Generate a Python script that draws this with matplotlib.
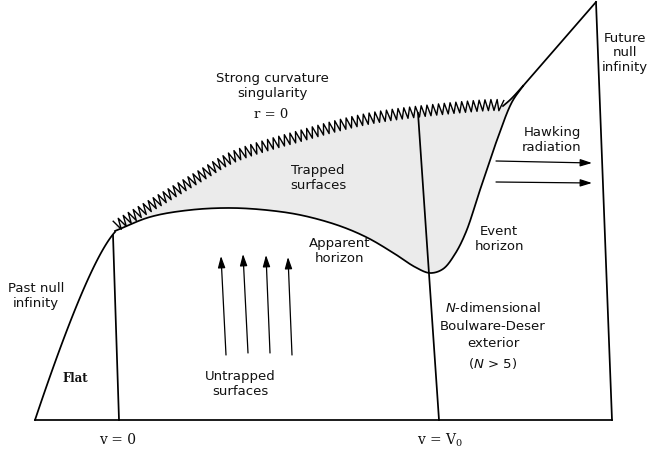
import numpy as np
import matplotlib
matplotlib.use("Agg")
import matplotlib.pyplot as plt

plt.rcParams['mathtext.fontset'] = 'dejavusans'

# Diagram curves, in pixel-like coordinates (y grows downward)
past_null_infinity = [(35, 420), (88, 262), (115, 232)]   # quadratic Bezier: start, control, end
apparent_horizon = [(115, 231), (150, 217), (190, 210), (233, 208), (275, 211),
                    (305, 216), (340, 226), (368, 238), (395, 254), (415, 267),
                    (430, 273), (443, 269), (455, 254), (466, 232), (480, 190),
                    (497, 140), (512, 102), (523, 86)]
singularity = [(116, 226), (133, 216), (165, 197), (200, 176), (233, 157),
               (300, 136), (367, 119), (433, 110), (497, 105), (503, 106)]
singularity_join = [(503, 106), (511, 99), (523, 86)]
outer_edge = [(523, 86), (596, 2)]
future_null_infinity = [(596, 2), (612, 420)]
bottom_edge = [(35, 420), (612, 420)]
line_v0 = [(113, 235), (119, 420)]
line_V0 = [(418, 113), (439, 420)]

untrapped_arrows = [((226, 355), (221, 256)), ((248, 353), (243, 254)),
                    ((270, 353), (266, 255)), ((292, 355), (288, 257))]
hawking_arrows = [((496, 161), (592, 163)), ((496, 182), (592, 183))]


def bezier(ctrl, n=80):
    p0, p1, p2 = (np.asarray(c, float) for c in ctrl)
    t = np.linspace(0, 1, n)[:, None]
    return (1 - t) ** 2 * p0 + 2 * (1 - t) * t * p1 + t ** 2 * p2


def smooth(pts, n=30, alpha=0.5):
    """Centripetal Catmull-Rom spline through the given points."""
    p = np.asarray(pts, float)
    if len(p) < 3:
        return p
    ext = np.vstack([2 * p[0] - p[1], p, 2 * p[-1] - p[-2]])
    out = []
    for i in range(1, len(ext) - 2):
        p0, p1, p2, p3 = ext[i - 1], ext[i], ext[i + 1], ext[i + 2]
        t0 = 0.0
        t1 = t0 + np.linalg.norm(p1 - p0) ** alpha
        t2 = t1 + np.linalg.norm(p2 - p1) ** alpha
        t3 = t2 + np.linalg.norm(p3 - p2) ** alpha
        t = np.linspace(t1, t2, n, endpoint=False)[:, None]
        a1 = (t1 - t) / (t1 - t0) * p0 + (t - t0) / (t1 - t0) * p1
        a2 = (t2 - t) / (t2 - t1) * p1 + (t - t1) / (t2 - t1) * p2
        a3 = (t3 - t) / (t3 - t2) * p2 + (t - t2) / (t3 - t2) * p3
        b1 = (t2 - t) / (t2 - t0) * a1 + (t - t0) / (t2 - t0) * a2
        b2 = (t3 - t) / (t3 - t1) * a2 + (t - t1) / (t3 - t1) * a3
        out.append((t2 - t) / (t2 - t1) * b1 + (t - t1) / (t2 - t1) * b2)
    out.append(p[-1][None, :])
    return np.vstack(out)


def zigzag(curve, half_period=2.9, amp=5.5):
    d = np.sqrt((np.diff(curve, axis=0) ** 2).sum(1))
    s = np.concatenate([[0], np.cumsum(d)])
    ss = np.arange(0, s[-1], half_period)
    x = np.interp(ss, s, curve[:, 0])
    y = np.interp(ss, s, curve[:, 1])
    tx = np.gradient(x)
    ty = np.gradient(y)
    norm = np.hypot(tx, ty)
    nx, ny = ty / norm, -tx / norm
    sign = np.where(np.arange(len(ss)) % 2 == 0, 1.0, -1.0)
    return x + sign * amp * nx, y + sign * amp * ny


fig = plt.figure(figsize=(6.47, 4.55), dpi=100)
ax = fig.add_axes([0, 0, 1, 1])
ax.set_xlim(0, 647)
ax.set_ylim(455, 0)
ax.axis('off')

lw = 1.25
ah = smooth(apparent_horizon)
sg = smooth(singularity)
sj = smooth(singularity_join, n=12)

# Trapped region between the horizon and the singularity
fill = np.vstack([ah, sj[::-1], sg[::-1]])
ax.fill(fill[:, 0], fill[:, 1], color='#ebebeb', lw=0, zorder=1)

pn = bezier(past_null_infinity)
ax.plot(pn[:, 0], pn[:, 1], color='k', lw=lw, zorder=3)
ax.plot(ah[:, 0], ah[:, 1], color='k', lw=lw, zorder=3)
ax.plot(sj[:, 0], sj[:, 1], color='k', lw=lw, zorder=3)
zx, zy = zigzag(sg)
ax.plot(zx, zy, color='k', lw=1.0, zorder=3)
for seg in (outer_edge, future_null_infinity, bottom_edge, line_v0, line_V0):
    a = np.asarray(seg)
    ax.plot(a[:, 0], a[:, 1], color='k', lw=lw, zorder=3)

for (x0, y0), (x1, y1) in untrapped_arrows + hawking_arrows:
    ax.annotate('', xy=(x1, y1), xytext=(x0, y0),
                arrowprops=dict(arrowstyle='-|>,head_length=0.7,head_width=0.22',
                                color='k', lw=0.9, shrinkA=0, shrinkB=0),
                zorder=4)

sans = dict(family='DejaVu Sans', fontsize=9.5, ha='center', va='center',
            linespacing=1.15, color='#111111')
serif = dict(family='DejaVu Serif', ha='center', va='center', color='#111111')

ax.text(272, 86, 'Strong curvature\nsingularity', **sans)
ax.text(271, 114, 'r = 0', fontsize=9.5, **serif)
ax.text(318, 178, 'Trapped\nsurfaces', **sans)
ax.text(340, 251, 'Apparent\nhorizon', **sans)
ax.text(499, 239, 'Event\nhorizon', **sans)
ax.text(552, 140, 'Hawking\nradiation', **sans)
ax.text(625, 53, 'Future\nnull\ninfinity', **sans)
ax.text(36, 296, 'Past null\ninfinity', **sans)
ax.text(240, 384, 'Untrapped\nsurfaces', **sans)
ax.text(493, 336, '$\\mathit{N}$-dimensional\nBoulware-Deser\nexterior\n($\\mathit{N}$ > 5)',
        **{**sans, 'linespacing': 1.45})
ax.text(75, 378, 'Flat', fontsize=8.5, fontweight='bold', **serif)
ax.text(118, 440, 'v = 0', fontsize=10, **serif)
ax.text(440, 440, 'v = V$_\\mathregular{0}$', fontsize=10, **serif)

fig.savefig('out.png', dpi=100)
